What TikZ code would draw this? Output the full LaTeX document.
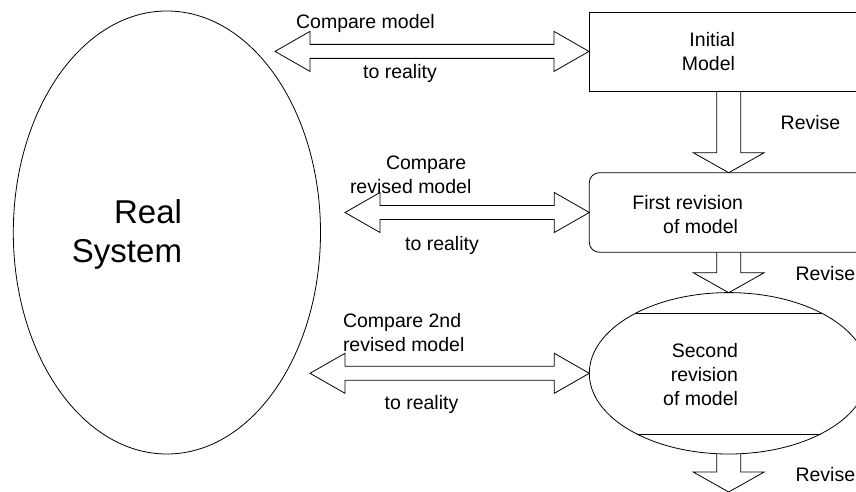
\documentclass[tikz,border=0pt]{standalone}
\usepackage{fontspec}
\setmainfont{Liberation Sans}
\usetikzlibrary{shapes.geometric}
\tikzset{
  blk/.style={draw=black, line width=0.8pt, line join=miter},
  shp/.style={draw=black, line width=0.8pt, inner sep=0pt, outer sep=0pt},
  lbl/.style={inner sep=0pt, outer sep=0pt, font=\fontsize{19.5}{24}\selectfont, anchor=base},
  biglbl/.style={inner sep=0pt, outer sep=0pt, font=\fontsize{33}{39}\selectfont, align=right, anchor=base east}
}
% horizontal double block arrow: left tip x, right tip x, y
\newcommand{\hblk}[3]{%
  \draw[blk] (#1,#3) -- ({#1+35},{#3-20}) -- ({#1+35},{#3-7}) -- ({#2-35},{#3-7})
    -- ({#2-35},{#3-20}) -- (#2,#3) -- ({#2-35},{#3+20}) -- ({#2-35},{#3+7})
    -- ({#1+35},{#3+7}) -- ({#1+35},{#3+20}) -- cycle;}
% vertical block arrow: x, top y, tip y
\newcommand{\vblk}[3]{%
  \draw[blk] ({#1-12},#2) -- ({#1-12},{#3-20}) -- ({#1-35.5},{#3-20}) -- (#1,#3)
    -- ({#1+35.5},{#3-20}) -- ({#1+12},{#3-20}) -- ({#1+12},#2);}
\begin{document}
\begin{tikzpicture}[x=1pt,y=-1pt]
\clip (0,0) rectangle (856,492);
\fill[white] (0,0) rectangle (856,492);

% Real system
\node[shp, ellipse, minimum width=307.2pt, minimum height=443pt] (real) at (166.9,232.5) {};
\node[biglbl] (realtxt) at (182,262) {Real\\System};

% Initial model box
\node[shp, rectangle, anchor=north west, minimum width=279pt, minimum height=79pt] (init) at (589,12) {};
\node[lbl, align=right, anchor=base east] (inittxt) at (735,70.7) {Initial\\Model};

% First revision box
\node[shp, rectangle, rounded corners=10pt, anchor=north west, minimum width=279pt, minimum height=79.6pt] (first) at (589.3,172.7) {};
\node[lbl, align=right, anchor=base east] (firsttxt) at (743,233) {First revision\\of model\hspace*{5pt}};

% Second revision ellipse
\node[shp, ellipse, minimum width=278.8pt, minimum height=161.4pt] (second) at (728.7,373.3) {};
\draw[blk] (second.center) ++(-93.2,-60) -- ++(186.4,0);
\draw[blk] (second.center) ++(-91.9,60.7) -- ++(183.8,0);
\node[lbl, align=right, anchor=base east] (secondtxt) at (738,405.5) {Second\\revision\\of model};

% Double arrows
\hblk{275}{589}{51.4}
\hblk{345}{589.3}{212.5}
\hblk{310}{589.3}{373.3}

% Down arrows
\vblk{728.7}{91}{172.7}
\vblk{728.7}{252.3}{292.7}
\vblk{728.7}{454}{492}

% Labels
\node[lbl] (c1) at (365.5,28.3) {Compare model};
\node[lbl] (r1) at (400,79) {to reality};
\node[lbl, align=left, anchor=base west] (c2) at (350,193) {\hspace*{36pt}Compare\\revised model};
\node[lbl] (r2) at (442,250) {to reality};
\node[lbl, align=left, anchor=base west] (c3) at (343,351.5) {Compare 2nd\\revised model};
\node[lbl] (r3) at (421.5,409) {to reality};
\node[lbl, anchor=base west] (rev1) at (780.7,129) {Revise};
\node[lbl, anchor=base west] (rev2) at (795.5,280) {Revise};
\node[lbl, anchor=base west] (rev3) at (795.5,481) {Revise};
\end{tikzpicture}
\end{document}
